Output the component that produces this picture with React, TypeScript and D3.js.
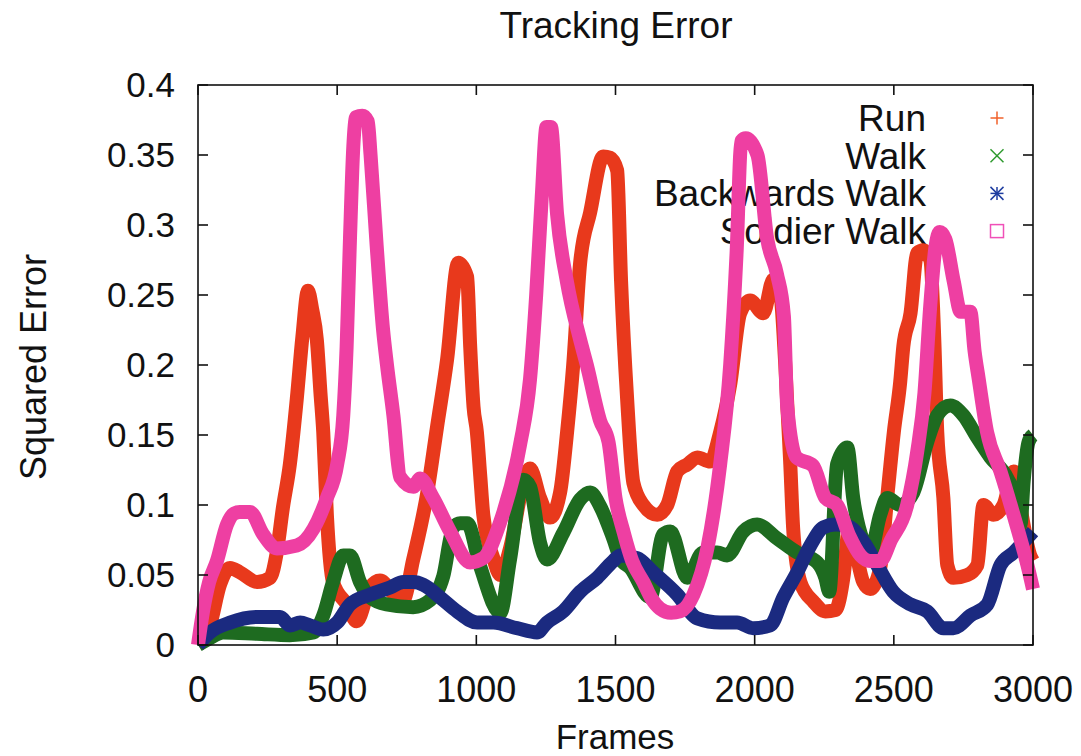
import React from "react";
import * as d3 from "d3";

const xTicks = [0, 500, 1000, 1500, 2000, 2500, 3000];
const yTicks = [0, 0.05, 0.1, 0.15, 0.2, 0.25, 0.3, 0.35, 0.4];
const yTickLabels = ["0", "0.05", "0.1", "0.15", "0.2", "0.25", "0.3", "0.35", "0.4"];
const seriesNames = ["Run", "Walk", "Backwards Walk", "Soldier Walk"];

const run: [number, number][] = [
  [0, 0], [43, 0.014], [79, 0.043], [115, 0.055], [150, 0.052], [212, 0.045], [259, 0.048], [283, 0.066],
  [305, 0.098], [330, 0.129], [355, 0.176], [375, 0.22], [395, 0.253], [410, 0.24], [427, 0.218], [440, 0.18],
  [450, 0.152], [463, 0.093], [485, 0.045], [535, 0.029], [570, 0.017], [618, 0.041], [654, 0.046], [701, 0.037],
  [737, 0.032], [773, 0.061], [823, 0.108], [859, 0.156], [895, 0.204], [935, 0.273], [967, 0.263], [978, 0.213],
  [990, 0.17], [1002, 0.152], [1014, 0.121], [1025, 0.093], [1061, 0.062], [1086, 0.05], [1121, 0.069],
  [1169, 0.116], [1193, 0.126], [1229, 0.105], [1265, 0.091], [1301, 0.109], [1326, 0.152], [1348, 0.2],
  [1373, 0.273], [1409, 0.309], [1456, 0.349], [1481, 0.348], [1506, 0.339], [1520, 0.26], [1542, 0.175],
  [1564, 0.116], [1600, 0.1], [1650, 0.093], [1686, 0.1], [1722, 0.124], [1758, 0.129], [1794, 0.134],
  [1840, 0.131], [1876, 0.152], [1912, 0.186], [1948, 0.237], [1984, 0.246], [2031, 0.237], [2067, 0.261],
  [2092, 0.251], [2110, 0.2], [2128, 0.129], [2139, 0.081], [2164, 0.045], [2211, 0.031], [2254, 0.024],
  [2290, 0.025], [2320, 0.05], [2340, 0.085], [2360, 0.07], [2390, 0.045], [2415, 0.04], [2451, 0.055],
  [2476, 0.105], [2500, 0.152], [2523, 0.188], [2534, 0.213], [2560, 0.237], [2584, 0.28], [2606, 0.282],
  [2631, 0.275], [2645, 0.22], [2656, 0.152], [2678, 0.105], [2692, 0.057], [2714, 0.048], [2764, 0.05],
  [2800, 0.057], [2822, 0.1], [2858, 0.093], [2894, 0.1], [2930, 0.124], [2955, 0.098], [2990, 0.064], [3000, 0.06],
];

const walk: [number, number][] = [
  [0, 0], [43, 0.005], [90, 0.009], [212, 0.008], [330, 0.007], [415, 0.009], [450, 0.021], [485, 0.045],
  [522, 0.064], [546, 0.064], [582, 0.045], [618, 0.034], [678, 0.029], [773, 0.027], [834, 0.032], [881, 0.049],
  [917, 0.084], [942, 0.087], [967, 0.087], [1014, 0.056], [1086, 0.023], [1121, 0.061], [1169, 0.118],
  [1193, 0.113], [1229, 0.073], [1254, 0.061], [1312, 0.08], [1373, 0.104], [1409, 0.109], [1445, 0.099],
  [1492, 0.076], [1517, 0.062], [1553, 0.055], [1625, 0.034], [1671, 0.079], [1697, 0.081], [1758, 0.048],
  [1815, 0.066], [1866, 0.066], [1901, 0.064], [1959, 0.081], [2009, 0.086], [2081, 0.076], [2153, 0.066],
  [2225, 0.059], [2254, 0.048], [2268, 0.038], [2296, 0.129], [2333, 0.141], [2354, 0.105], [2390, 0.074],
  [2415, 0.066], [2451, 0.093], [2476, 0.105], [2523, 0.1], [2570, 0.109], [2620, 0.145], [2656, 0.164],
  [2703, 0.171], [2750, 0.164], [2800, 0.148], [2847, 0.134], [2908, 0.119], [2944, 0.1], [2955, 0.086],
  [2966, 0.116], [2984, 0.145], [3000, 0.15],
];

const backwards: [number, number][] = [
  [0, 0], [43, 0.009], [115, 0.016], [212, 0.02], [295, 0.02], [330, 0.014], [367, 0.016], [402, 0.014],
  [450, 0.011], [500, 0.016], [546, 0.029], [618, 0.036], [690, 0.041], [738, 0.045], [774, 0.045], [810, 0.043],
  [870, 0.034], [931, 0.024], [1003, 0.016], [1061, 0.016], [1146, 0.012], [1218, 0.009], [1254, 0.016],
  [1312, 0.024], [1373, 0.038], [1434, 0.048], [1492, 0.06], [1517, 0.064], [1578, 0.062], [1635, 0.052],
  [1722, 0.036], [1794, 0.019], [1876, 0.016], [1937, 0.016], [1995, 0.012], [2056, 0.014], [2103, 0.034],
  [2153, 0.052], [2200, 0.071], [2247, 0.084], [2290, 0.086], [2333, 0.085], [2390, 0.074], [2440, 0.057],
  [2498, 0.038], [2560, 0.029], [2620, 0.024], [2678, 0.012], [2714, 0.012], [2775, 0.021], [2836, 0.029],
  [2883, 0.057], [2930, 0.066], [3000, 0.081],
];

const soldier: [number, number][] = [
  [0, 0], [18, 0.024], [40, 0.045], [68, 0.06], [104, 0.086], [130, 0.094], [150, 0.095], [187, 0.095],
  [234, 0.079], [283, 0.069], [355, 0.071], [415, 0.083], [463, 0.105], [500, 0.129], [522, 0.164],
  [534, 0.213], [546, 0.29], [558, 0.356], [568, 0.377], [590, 0.378], [610, 0.374], [620, 0.35], [642, 0.285],
  [665, 0.225], [679, 0.2], [702, 0.164], [726, 0.12], [774, 0.113], [798, 0.119], [845, 0.105], [906, 0.081],
  [978, 0.059], [1025, 0.062], [1086, 0.088], [1157, 0.143], [1193, 0.19], [1215, 0.25], [1235, 0.32],
  [1252, 0.37], [1268, 0.37], [1290, 0.308], [1325, 0.26], [1373, 0.218], [1397, 0.2], [1445, 0.16],
  [1475, 0.145], [1500, 0.105], [1530, 0.08], [1560, 0.06], [1600, 0.045], [1630, 0.033], [1660, 0.026],
  [1700, 0.023], [1732, 0.024], [1780, 0.036], [1830, 0.069], [1876, 0.129], [1912, 0.2], [1935, 0.28],
  [1952, 0.36], [1968, 0.362], [2010, 0.35], [2045, 0.29], [2080, 0.265], [2105, 0.235], [2117, 0.17],
  [2150, 0.134], [2210, 0.128], [2254, 0.105], [2296, 0.1], [2340, 0.078], [2380, 0.064], [2415, 0.06],
  [2451, 0.06], [2490, 0.075], [2548, 0.1], [2584, 0.138], [2610, 0.18], [2630, 0.24], [2650, 0.285],
  [2665, 0.295], [2685, 0.29], [2715, 0.26], [2740, 0.238], [2775, 0.238], [2790, 0.21], [2805, 0.19],
  [2835, 0.152], [2883, 0.124], [2930, 0.093], [2980, 0.057], [3000, 0.04],
];

const allSeries = [run, walk, backwards, soldier];
const lineColors = ["#e8391c", "#1e6b20", "#1b2a80", "#ee3fa2"];
const legendColors = ["#f0602a", "#2e9a2e", "#1e3da0", "#f050b8"];

const W = 1081;
const H = 756;
const left = 198;
const right = 1033;
const top = 85;
const bottom = 645;
const FONT = "'Liberation Sans', Arial, Helvetica, sans-serif";

function LegendMarker({ i, cx, cy, color }: { i: number; cx: number; cy: number; color: string }) {
  const s = 6.5;
  if (i === 0) {
    return (
      <g stroke={color} strokeWidth={1.5}>
        <line x1={cx - s} y1={cy} x2={cx + s} y2={cy} />
        <line x1={cx} y1={cy - s} x2={cx} y2={cy + s} />
      </g>
    );
  }
  if (i === 1) {
    return (
      <g stroke={color} strokeWidth={1.5}>
        <line x1={cx - s} y1={cy - s} x2={cx + s} y2={cy + s} />
        <line x1={cx - s} y1={cy + s} x2={cx + s} y2={cy - s} />
      </g>
    );
  }
  if (i === 2) {
    return (
      <g stroke={color} strokeWidth={1.5}>
        <line x1={cx - s} y1={cy} x2={cx + s} y2={cy} />
        <line x1={cx} y1={cy - s} x2={cx} y2={cy + s} />
        <line x1={cx - s} y1={cy - s} x2={cx + s} y2={cy + s} />
        <line x1={cx - s} y1={cy + s} x2={cx + s} y2={cy - s} />
      </g>
    );
  }
  return <rect x={cx - s} y={cy - s} width={2 * s} height={2 * s} fill="none" stroke={color} strokeWidth={1.5} />;
}

export default function App() {
  const x = d3.scaleLinear().domain([0, 3000]).range([left, right]);
  const y = d3.scaleLinear().domain([0, 0.4]).range([bottom, top]);
  const line = d3
    .line<[number, number]>()
    .x((d) => x(d[0]))
    .y((d) => y(d[1]))
    .curve(d3.curveMonotoneX);

  const tickLen = 10;
  const legendTextX = 926;
  const legendMarkX = 997;
  const legendY0 = 118;
  const legendDy = 37.7;

  return (
    <svg width={W} height={H} style={{ position: "absolute", left: 0, top: 0, background: "#fff" }} fontFamily={FONT}>
      <rect x={0} y={0} width={W} height={H} fill="#fff" />
      <defs>
        <clipPath id="plotClip">
          <rect x={left - 8} y={top} width={right - left + 16} height={bottom - top + 12} />
        </clipPath>
      </defs>

      {/* title */}
      <text x={616} y={38} textAnchor="middle" fontSize={37} fill="#111">Tracking Error</text>

      {/* legend text (under the curves, as in the reference) */}
      {seriesNames.map((n, i) => (
        <text key={n} x={legendTextX} y={legendY0 + i * legendDy + 13} textAnchor="end" fontSize={37} fill="#111">
          {n}
        </text>
      ))}
      {seriesNames.map((n, i) => (
        <LegendMarker key={n} i={i} cx={legendMarkX} cy={legendY0 + i * legendDy} color={legendColors[i]} />
      ))}

      {/* curves */}
      <g clipPath="url(#plotClip)">
        {allSeries.map((s, i) => (
          <path
            key={i}
            d={line(s) || ""}
            fill="none"
            stroke={lineColors[i]}
            strokeWidth={14}
            strokeLinejoin="round"
            strokeLinecap="butt"
          />
        ))}
      </g>

      {/* frame */}
      <rect x={left} y={top} width={right - left} height={bottom - top} fill="none" stroke="#111" strokeWidth={1.6} />

      {/* ticks */}
      {xTicks.map((t) => (
        <g key={"x" + t} stroke="#111" strokeWidth={1.6}>
          <line x1={x(t)} y1={bottom} x2={x(t)} y2={bottom - tickLen} />
          <line x1={x(t)} y1={top} x2={x(t)} y2={top + tickLen} />
        </g>
      ))}
      {yTicks.map((t) => (
        <g key={"y" + t} stroke="#111" strokeWidth={1.6}>
          <line x1={left} y1={y(t)} x2={left + tickLen} y2={y(t)} />
          <line x1={right} y1={y(t)} x2={right - tickLen} y2={y(t)} />
        </g>
      ))}

      {/* tick labels */}
      {xTicks.map((t) => (
        <text key={"xl" + t} x={x(t)} y={702} textAnchor="middle" fontSize={36} fill="#111">
          {String(t)}
        </text>
      ))}
      {yTicks.map((t, i) => (
        <text key={"yl" + t} x={175} y={y(t) + 12} textAnchor="end" fontSize={35} fill="#111">
          {yTickLabels[i]}
        </text>
      ))}

      {/* axis labels */}
      <text x={615} y={749} textAnchor="middle" fontSize={35} fill="#111">Frames</text>
      <text transform={`translate(46, 367) rotate(-90)`} textAnchor="middle" fontSize={36} fill="#111">
        Squared Error
      </text>
    </svg>
  );
}
